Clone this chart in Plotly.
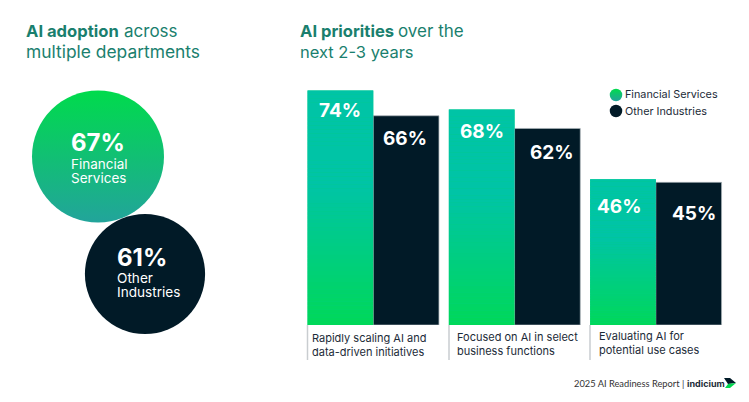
import plotly.graph_objects as go

W, H = 749, 402
categories = ["Rapidly scaling AI and<br>data-driven initiatives",
              "Focused on AI in select<br>business functions",
              "Evaluating AI for<br>potential use cases"]
financial = [74, 68, 46]
other = [66, 62, 45]
adoption_names = [["Financial", "Services"], ["Other", "Industries"]]
adoption_values = [67, 61]
legend_names = ["Financial Services", "Other Industries"]

FONT = "Inter"
DARK = "#011a27"
TEAL = (0, 196, 166)
GREEN = (0, 216, 90)
TITLE = "#1a7f6e"
BANDS = 60


def mix(a, b, t):
    return "rgb(%d,%d,%d)" % tuple(round(a[i] + (b[i] - a[i]) * t) for i in range(3))


def px(x):
    return x / W


def py(y):
    return 1 - y / H


fig = go.Figure()
xs = list(range(len(categories)))
BW = 65.7 / 141.3

fig.add_trace(go.Bar(x=xs, y=financial, width=BW, offset=-BW, marker=dict(color=mix(TEAL, GREEN, .5), line_width=0),
                     name=legend_names[0], showlegend=False))
fig.add_trace(go.Bar(x=xs, y=other, width=BW, offset=0,
                     marker=dict(color=DARK, line=dict(color="#aab3b8", width=0.7)),
                     name=legend_names[1], showlegend=False))
# gradient paint over the financial bars
bx, bb, bh, bc = [], [], [], []
for i, v in zip(xs, financial):
    for k in range(BANDS):
        t = k / (BANDS - 1)
        bx.append(i)
        bb.append(v * k / BANDS)
        bh.append(v / BANDS)
        bc.append(mix(GREEN, TEAL, min(1, t / 0.6)))
fig.add_trace(go.Bar(x=bx, y=bh, base=bb, width=BW, offset=-BW, marker=dict(color=bc, line_width=0),
                     showlegend=False, hoverinfo="skip"))

# circles + legend dots on a pixel overlay
fig.add_trace(go.Scatter(x=[98, 145], y=[156.5, 274], xaxis="x2", yaxis="y2", mode="markers", showlegend=False,
                         marker=dict(size=[v * 1.97 for v in adoption_values], color=["#00db4c", DARK],
                                     gradient=dict(type="vertical", color=["#22a49b", DARK]),
                                     line_width=0, opacity=1)))
fig.add_trace(go.Scatter(x=[616, 616], y=[95, 111], xaxis="x2", yaxis="y2", mode="markers", showlegend=False,
                         marker=dict(size=12.5, color=["#00db4c", DARK],
                                     gradient=dict(type="vertical", color=["#22a49b", DARK]), line_width=0)))


def note(x, y, text, size, color, anchor="left", bold=False, font=FONT):
    if bold:
        text = "<b>%s</b>" % text
    fig.add_annotation(x=px(x), y=py(y), xref="paper", yref="paper", text=text, showarrow=False,
                       xanchor=anchor, yanchor="middle", align=anchor,
                       font=dict(family=font, size=size, color=color), borderpad=0, borderwidth=0)


note(26, 31, "AI adoption", 16.6, TITLE, bold=True)
note(124, 31, "across", 17, TITLE)
note(26, 52, "multiple departments", 17.4, TITLE)
note(300, 31, "AI priorities", 16.6, TITLE, bold=True)
note(398, 31, "over the", 17, TITLE)
note(300, 52, "next 2-3 years", 16.5, TITLE)

note(71, 142, f"{adoption_values[0]}%", 24, "white", bold=True)
note(70.5, 163.5, adoption_names[0][0], 13.5, "white")
note(70.5, 177.5, adoption_names[0][1], 13.5, "white")
note(116.5, 257, f"{adoption_values[1]}%", 24, "white", bold=True)
note(117, 277.5, adoption_names[1][0], 13.6, "white")
note(117, 291.5, adoption_names[1][1], 13.6, "white")

note(625, 95, legend_names[0], 10.8, "#1c2b38")
note(625, 111, legend_names[1], 10.8, "#1c2b38")

fs_pos = [(339.5, 110.7), (481.7, 131), (619, 206.7)]
ot_pos = [(405, 139), (552, 152.7), (693.7, 213)]
for v, (x, y) in zip(financial, fs_pos):
    note(x, y, f"{v}%", 19, "white", anchor="center", bold=True)
for v, (x, y) in zip(other, ot_pos):
    note(x, y, f"{v}%", 19, "white", anchor="center", bold=True)

for c, (x, y) in zip(categories, [(312, 345), (457, 343.5), (599, 342.5)]):
    note(x, y, c, 11, "#1c2b38")

note(684, 383, "2025 AI Readiness Report |", 9.3, "#333333", anchor="right", font="Lato")
note(687, 383, "indicium", 9, "#1c2b38", bold=True)

shapes = []
for x in (307.5, 449, 590):
    shapes.append(dict(type="line", xref="paper", yref="paper", x0=px(x), x1=px(x), y0=py(325), y1=py(360),
                       line=dict(color="#c9cdd0", width=1.5)))
shapes.append(dict(type="path", xref="paper", yref="paper",
                   path=f"M {px(724)} {py(378)} L {px(730)} {py(378)} L {px(736)} {py(383)} L {px(728)} {py(384)} Z",
                   fillcolor=DARK, line_width=0))
shapes.append(dict(type="path", xref="paper", yref="paper",
                   path=f"M {px(728)} {py(384)} L {px(736)} {py(383)} L {px(730)} {py(388)} L {px(725)} {py(388)} Z",
                   fillcolor="#00d84f", line_width=0))

fig.update_layout(
    width=W, height=H, margin=dict(l=0, r=0, t=0, b=0), paper_bgcolor="white", plot_bgcolor="rgba(0,0,0,0)",
    barmode="overlay", shapes=shapes,
    xaxis=dict(domain=[302.6 / W, 726.5 / W], range=[-.5, 2.5], visible=False, fixedrange=True, anchor="y"),
    yaxis=dict(domain=[(H - 325) / H, (H - 8) / H], range=[0, 100], visible=False, fixedrange=True, anchor="x"),
    xaxis2=dict(domain=[0, 1], range=[0, W], visible=False, anchor="y2", fixedrange=True),
    yaxis2=dict(domain=[0, 1], range=[H, 0], visible=False, anchor="x2", fixedrange=True),
)
fig.write_html("out.html", config=dict(displayModeBar=False), post_script="document.body.style.margin='0';")
